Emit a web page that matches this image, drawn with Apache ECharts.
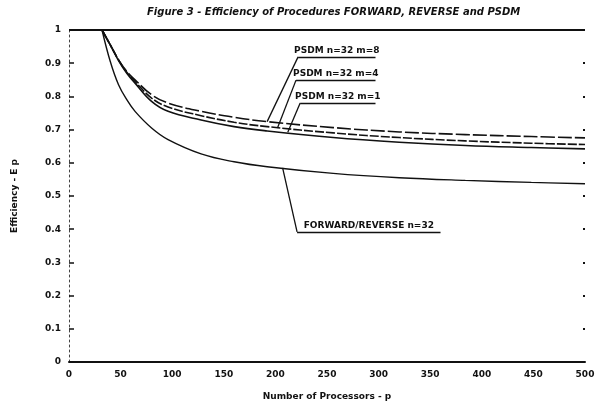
<!DOCTYPE html>
<html>
<head>
<meta charset="utf-8">
<script src="https://cdn.jsdelivr.net/npm/echarts@6/dist/echarts.min.js"></script>
<style>html,body{margin:0;padding:0;background:#fff}#c{width:605px;height:414px}</style>
</head>
<body>
<div id="c"></div>
<script>
const processors = [32, 40, 48, 56, 64, 80, 96, 128, 160, 192, 256, 320, 384, 448, 500];
const forwardReverse = [1.0, 0.905, 0.835, 0.79, 0.755, 0.705, 0.67, 0.627, 0.603, 0.588, 0.568, 0.555, 0.547, 0.541, 0.537];
const psdmM8 = [1.0, 0.955, 0.91, 0.875, 0.85, 0.805, 0.78, 0.755, 0.737, 0.724, 0.706, 0.693, 0.685, 0.679, 0.675];
const psdmM4 = [1.0, 0.955, 0.91, 0.873, 0.845, 0.795, 0.768, 0.742, 0.722, 0.709, 0.69, 0.676, 0.666, 0.659, 0.655];
const psdmM1 = [1.0, 0.955, 0.908, 0.87, 0.84, 0.785, 0.755, 0.729, 0.709, 0.696, 0.676, 0.662, 0.652, 0.646, 0.642];
const xTicks = [0, 50, 100, 150, 200, 250, 300, 350, 400, 450, 500];
const yTicks = [0, 0.1, 0.2, 0.3, 0.4, 0.5, 0.6, 0.7, 0.8, 0.9, 1];

const seriesNames = ['FORWARD/REVERSE n=32', 'PSDM n=32 m=8', 'PSDM n=32 m=4', 'PSDM n=32 m=1'];

const pair = arr => processors.map((p, i) => [p, arr[i]]);

const font = '"DejaVu Sans", sans-serif';
const ink = '#111';

// annotation anchors (data space): [label, curveP, curveE, underlineStartP, underlineEndP, underlineE]
const notes = [
  [seriesNames[1], 192, 0.724, 222, 297, 0.919],
  [seriesNames[2], 202, 0.705, 220, 297, 0.849],
  [seriesNames[3], 212, 0.692, 224, 297, 0.78],
  [seriesNames[0], 207, 0.585, 221, 360, 0.392]
];

const annoData = [];
notes.forEach(n => {
  annoData.push([{coord: [n[3], n[5]], label: {show: true, formatter: n[0]}}, {coord: [n[4], n[5]]}]);
  annoData.push([{coord: [n[3], n[5]], label: {show: false}}, {coord: [n[1], n[2]]}]);
});

const chart = echarts.init(document.getElementById('c'), null, {renderer: 'canvas'});
chart.setOption({
  animation: false,
  backgroundColor: '#fff',
  title: {
    text: 'Figure 3 - Efficiency of Procedures FORWARD, REVERSE and PSDM',
    left: 142, top: 2,
    textStyle: {fontFamily: font, fontSize: 10, fontWeight: 'bold', fontStyle: 'italic', color: ink}
  },
  grid: {left: 69, right: 20, top: 30, bottom: 52},
  xAxis: {
    type: 'value', min: 0, max: 500, interval: 50,
    name: 'Number of Processors - p', nameLocation: 'middle', nameGap: 30,
    nameTextStyle: {fontFamily: font, fontSize: 9, fontWeight: 'bold', color: ink},
    axisLine: {lineStyle: {color: ink, width: 2}},
    axisTick: {show: false},
    axisLabel: {fontFamily: font, fontSize: 9, fontWeight: 'bold', color: ink, margin: 8,
      formatter: v => xTicks.includes(v) ? String(v) : ''},
    splitLine: {show: false}
  },
  yAxis: [{
    type: 'value', min: 0, max: 1, interval: 0.1,
    name: 'Efficiency - E p', nameLocation: 'middle', nameGap: 50, nameRotate: 90,
    nameTextStyle: {fontFamily: font, fontSize: 9, fontWeight: 'bold', color: ink},
    axisLine: {show: true, lineStyle: {color: '#444', width: 1, type: [2, 3]}},
    axisTick: {show: true, inside: true, length: 5, lineStyle: {color: ink, width: 1.5}},
    axisLabel: {fontFamily: font, fontSize: 9, fontWeight: 'bold', color: ink, margin: 8,
      formatter: v => {
        const t = yTicks.find(y => Math.abs(y - v) < 1e-6);
        if (t === undefined) return '';
        return (t === 0 || t === 1) ? String(t) : t.toFixed(1);
      }},
    splitLine: {show: false}
  }, {
    type: 'value', min: 0, max: 1, interval: 0.1, position: 'right',
    axisLine: {show: false},
    axisTick: {show: true, inside: true, length: 2, lineStyle: {color: ink, width: 2}},
    axisLabel: {show: false},
    splitLine: {show: false}
  }],
  series: [
    {
      name: seriesNames[0], type: 'line', data: pair(forwardReverse), showSymbol: false, smooth: 0.4,
      lineStyle: {color: ink, width: 1.4}
    },
    {
      name: seriesNames[1], type: 'line', data: pair(psdmM8), showSymbol: false, smooth: 0.4,
      lineStyle: {color: ink, width: 1.6, type: [14, 3]}
    },
    {
      name: seriesNames[2], type: 'line', data: pair(psdmM4), showSymbol: false, smooth: 0.4,
      lineStyle: {color: ink, width: 1.6, type: [9, 2]}
    },
    {
      name: seriesNames[3], type: 'line', data: pair(psdmM1), showSymbol: false, smooth: 0.4,
      lineStyle: {color: ink, width: 1.6}
    },
    {
      name: 'annotations', type: 'line', data: [], silent: true,
      markLine: {
        silent: true, symbol: ['none', 'none'], animation: false,
        lineStyle: {color: ink, width: 1.3, type: 'solid'},
        label: {show: true, position: 'insideMiddleTop', distance: 2,
          fontFamily: font, fontSize: 9, fontWeight: 'bold', color: ink},
        emphasis: {disabled: true},
        data: annoData.concat([[{coord: [0, 1], label: {show: false}, lineStyle: {width: 2}}, {coord: [500, 1]}]])
      }
    }
  ]
});
</script>
</body>
</html>
